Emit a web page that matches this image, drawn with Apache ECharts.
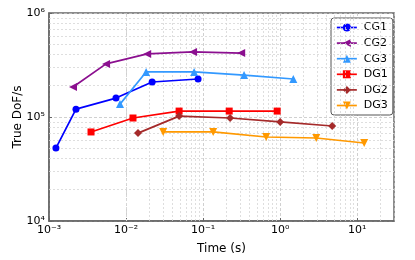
<!DOCTYPE html>
<html>
<head>
<meta charset="utf-8">
<script src="https://cdn.jsdelivr.net/npm/echarts@6/dist/echarts.min.js"></script>
<style>html,body{margin:0;padding:0;background:#fff;}#c{width:415px;height:260px;}</style>
</head>
<body>
<div id="c"></div>
<script>
var seriesNames = ['CG1', 'CG2', 'CG3', 'DG1', 'DG2', 'DG3'];
var cg1Time = [0.00123, 0.00224, 0.0074, 0.0218, 0.086];
var cg1Rate = [50300, 119000, 152000, 217000, 232000];
var cg2Time = [0.00205, 0.0055, 0.0188, 0.074, 0.312];
var cg2Rate = [194000, 324000, 404000, 422000, 412000];
var cg3Time = [0.00835, 0.0182, 0.0764, 0.34, 1.48];
var cg3Rate = [133000, 271000, 271000, 253000, 232000];
var dg1Time = [0.00351, 0.0123, 0.0488, 0.218, 0.914];
var dg1Rate = [71800, 97800, 114000, 114000, 114000];
var dg2Time = [0.0143, 0.0488, 0.224, 1.0, 4.73];
var dg2Rate = [70000, 102000, 97800, 89600, 81900];
var dg3Time = [0.0303, 0.135, 0.658, 2.94, 12.3];
var dg3Rate = [71800, 71800, 64200, 62800, 56200];
var xMin = 1e-3, xMax = 30, yMin = 1e4, yMax = 1e6;

var allTimes = [cg1Time, cg2Time, cg3Time, dg1Time, dg2Time, dg3Time];
var allRates = [cg1Rate, cg2Rate, cg3Rate, dg1Rate, dg2Rate, dg3Rate];
var colors = ['#0000ff', '#8b0f8f', '#3399ff', '#ff0000', '#a52a2a', '#ff9900'];
var symbols = ['circle', 'triangle', 'triangle', 'rect', 'diamond', 'triangle'];
var rotates = [0, 90, 0, 0, 0, 180];
var sizes = [7, 8, 8, 7, 8, 8];

var supMap = {'-':'\u207b','0':'\u2070','1':'\u00b9','2':'\u00b2','3':'\u00b3','4':'\u2074','5':'\u2075','6':'\u2076','7':'\u2077','8':'\u2078','9':'\u2079'};
function powLabel(v) {
  var e = Math.log10(v);
  var r = Math.round(e);
  if (Math.abs(e - r) > 1e-6) return '';
  var s = String(r).split('').map(function (c) { return supMap[c]; }).join('');
  return '10' + s;
}

function minorLines(lo, hi, axisKey) {
  var out = [];
  for (var d = Math.floor(Math.log10(lo)); d <= Math.ceil(Math.log10(hi)); d++) {
    for (var k = 2; k <= 9; k++) {
      var v = k * Math.pow(10, d);
      if (v > lo && v < hi) { var o = {}; o[axisKey] = v; out.push(o); }
    }
  }
  return out;
}

var series = seriesNames.map(function (name, i) {
  return {
    name: name,
    type: 'line',
    data: allTimes[i].map(function (t, j) { return [t, allRates[i][j]]; }),
    symbol: symbols[i],
    symbolRotate: rotates[i],
    symbolSize: sizes[i],
    lineStyle: { width: 1.7, color: colors[i], type: 'solid' },
    itemStyle: { color: colors[i], borderWidth: 0 },
    z: 5
  };
});
series.push({
  type: 'line',
  data: [],
  silent: true,
  z: 1,
  markLine: {
    silent: true,
    symbol: ['none', 'none'],
    label: { show: false },
    animation: false,
    lineStyle: { type: [2, 2], color: '#d6d6d6', width: 0.8 },
    data: minorLines(xMin, xMax, 'xAxis').concat(minorLines(yMin, yMax, 'yAxis'))
  }
});

var chart = echarts.init(document.getElementById('c'), null, { renderer: 'canvas' });
chart.setOption({
  animation: false,
  color: colors,
  grid: { left: 49, right: 21, top: 13, bottom: 39, containLabel: false, outerBoundsMode: 'none', show: true, borderColor: '#666', borderWidth: 1.5, backgroundColor: 'transparent' },
  xAxis: {
    type: 'log', logBase: 10, min: xMin, max: xMax,
    name: 'Time (s)', nameLocation: 'middle', nameGap: 22, nameMoveOverlap: false,
    nameTextStyle: { fontFamily: 'DejaVu Sans', fontSize: 12, color: '#000' },
    axisLine: { show: true, lineStyle: { color: '#666', width: 1.5 } },
    axisTick: { show: true, inside: true, length: 3, lineStyle: { color: '#666' } },
    axisLabel: { formatter: powLabel, fontFamily: 'DejaVu Sans', fontSize: 11, color: '#000', margin: 4, showMaxLabel: false },
    splitLine: { show: true, lineStyle: { type: [3, 2], color: '#c4c4c4', width: 0.8 } }
  },
  yAxis: {
    type: 'log', logBase: 10, min: yMin, max: yMax,
    name: 'True DoF/s', nameLocation: 'middle', nameGap: 25, nameMoveOverlap: false,
    nameTextStyle: { fontFamily: 'DejaVu Sans', fontSize: 12, color: '#000' },
    axisLine: { show: true, lineStyle: { color: '#666', width: 1.5 } },
    axisTick: { show: true, inside: true, length: 3, lineStyle: { color: '#666' } },
    axisLabel: { formatter: powLabel, fontFamily: 'DejaVu Sans', fontSize: 11, color: '#000', margin: 4 },
    splitLine: { show: true, lineStyle: { type: [3, 2], color: '#c4c4c4', width: 0.8 } }
  },
  legend: {
    orient: 'vertical', left: 331, top: 18,
    data: seriesNames,
    backgroundColor: '#fff', borderColor: '#555', borderWidth: 1, borderRadius: 3,
    padding: [4, 5, 4, 5], itemGap: 4.6, itemWidth: 20, itemHeight: 10,
    lineStyle: { type: 'solid', width: 1.7 },
    itemStyle: { borderWidth: 0 },
    textStyle: { fontFamily: 'DejaVu Sans', fontSize: 11, color: '#000', padding: [0, 0, 0, 2] }
  },
  series: series
});
</script>
</body>
</html>
